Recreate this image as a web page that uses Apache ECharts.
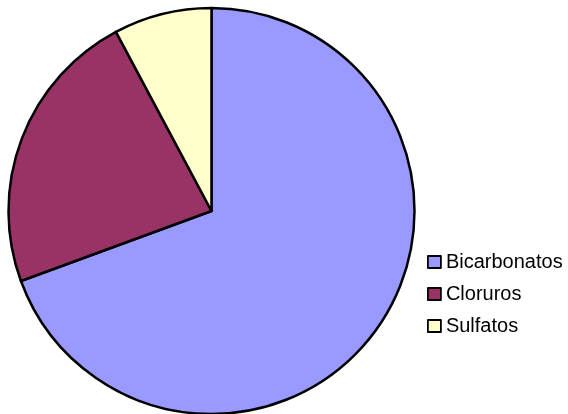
<!DOCTYPE html>
<html>
<head>
<meta charset="utf-8">
<script src="https://cdn.jsdelivr.net/npm/echarts@6/dist/echarts.min.js"></script>
<style>
  html, body { margin: 0; padding: 0; background: #fff; }
  #chart { width: 568px; height: 414px; }
</style>
</head>
<body>
<div id="chart"></div>
<script>
'use strict'

const categories = ['Bicarbonatos', 'Cloruros', 'Sulfatos']
const values = [69.4, 22.8, 7.8]
const colors = ['#9999ff', '#993366', '#ffffcc']

const chart = echarts.init(document.getElementById('chart'))

const option = {
  animation: false,
  legend: {
    orient: 'vertical',
    left: 427,
    top: 251,
    padding: 0,
    itemWidth: 13,
    itemHeight: 12,
    itemGap: 10,
    icon: 'rect',
    itemStyle: { borderColor: '#000', borderWidth: 1.8 },
    textStyle: {
      fontFamily: 'Liberation Sans, Arial, sans-serif',
      fontSize: 20,
      lineHeight: 22,
      color: '#000'
    },
    data: categories
  },
  series: [{
    type: 'pie',
    center: [211.5, 211],
    radius: 203,
    startAngle: 90,
    clockwise: true,
    label: { show: false },
    labelLine: { show: false },
    emphasis: { disabled: true },
    itemStyle: { borderColor: '#000', borderWidth: 2.5 },
    data: categories.map((name, i) => ({
      name,
      value: values[i],
      itemStyle: { color: colors[i] }
    }))
  }]
}

chart.setOption(option)
</script>
</body>
</html>
